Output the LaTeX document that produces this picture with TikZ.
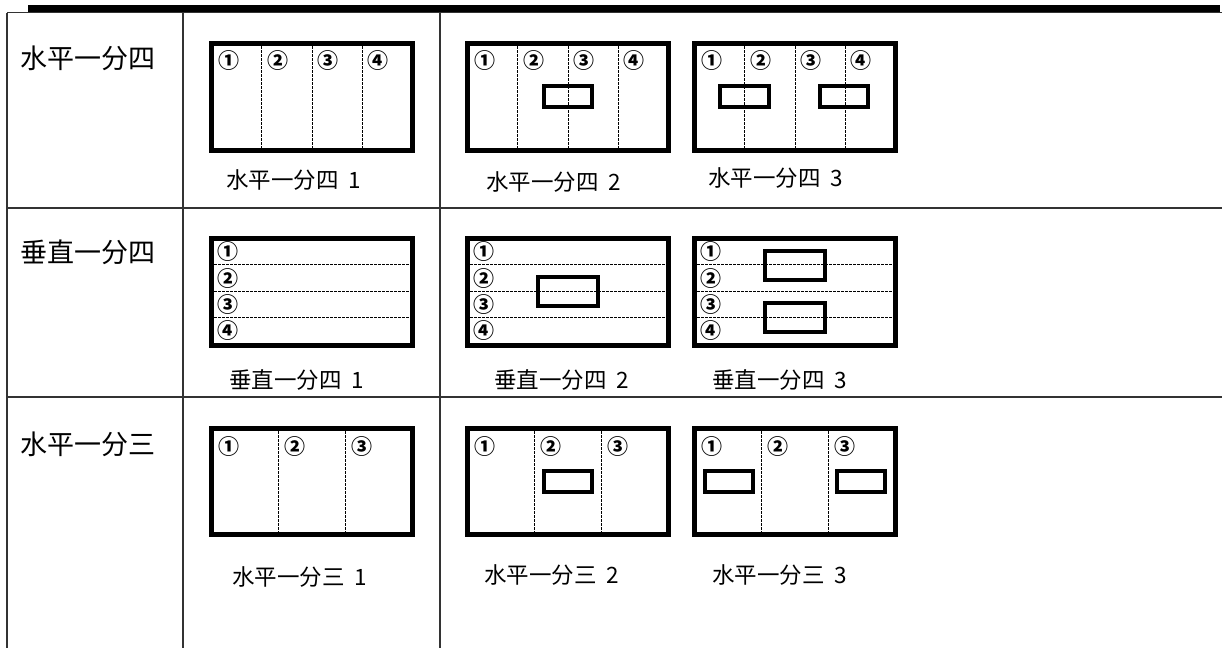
\documentclass[tikz,border=0pt]{standalone}
\usepackage{fontspec}
\setmainfont{Noto Sans CJK SC}
\newcommand\capgap{\hspace{0.45em}}
\begin{document}
\begin{tikzpicture}[x=1pt,y=-1pt,
  grid/.style={draw=black!80,line width=1.4pt},
  bigbox/.style={draw=black,line width=5pt},
  smallbox/.style={draw=black,line width=4pt},
  divline/.style={draw=black,line width=0.8pt,dash pattern=on 2.5pt off 1.5pt},
  rowlabel/.style={anchor=west,inner sep=0pt,font=\fontsize{27}{30}\selectfont},
  caption/.style={anchor=west,inner sep=0pt,font=\fontsize{22.5}{26}\selectfont},
  num/.style={inner sep=0pt,font=\fontsize{21}{22}\selectfont\bfseries}]
\useasboundingbox (0,0) rectangle (1222,648);
% top rule and table grid
\fill[black] (28,5) rectangle (1220,11.5);
\draw[grid] (7,12.5) -- (1222,12.5);
\draw[grid] (7,208) -- (1222,208);
\draw[grid] (7,397) -- (1222,397);
\draw[grid] (7,12.5) -- (7,648);
\draw[grid] (183,12.5) -- (183,648);
\draw[grid] (440,12.5) -- (440,648);
% row labels
\node[rowlabel] (l1) at (20.5,58) {水平一分四};
\node[rowlabel] (l2) at (20.5,252.5) {垂直一分四};
\node[rowlabel] (l3) at (20.5,444) {水平一分三};
% ---------- row 1: horizontal quarters
\foreach \xo in {211.5,467.5,694.5}{
  \foreach \k in {1,2,3}{
    \draw[divline] ({\xo+\k*50.25},46) -- ({\xo+\k*50.25},148);
  }
  \draw[bigbox] (\xo,43.5) rectangle ({\xo+201},150.5);
  \node[num] at ({\xo+17},61) {①};
  \node[num] at ({\xo+50.25+16},61) {②};
  \node[num] at ({\xo+100.5+16},61) {③};
  \node[num] at ({\xo+150.75+16},61) {④};
}
\draw[smallbox] (544,86) rectangle (592,107);
\draw[smallbox] (720,86) rectangle (769,107);
\draw[smallbox] (820,86) rectangle (868,107);
\node[caption] (c11) at (226,180) {水平一分四\capgap 1};
\node[caption] (c12) at (486,182) {水平一分四\capgap 2};
\node[caption] (c13) at (708,178) {水平一分四\capgap 3};
% ---------- row 2: vertical quarters
\foreach \xo in {211.5,467.5,694.5}{
  \foreach \yy in {264,291,317}{
    \draw[divline] ({\xo+2.5},\yy) -- ({\xo+198.5},\yy);
  }
  \draw[bigbox] (\xo,238.5) rectangle ({\xo+201},345.5);
  \node[num] at ({\xo+16.5},251.7) {①};
  \node[num] at ({\xo+16.5},278.3) {②};
  \node[num] at ({\xo+16.5},304.3) {③};
  \node[num] at ({\xo+16.5},331) {④};
}
\draw[smallbox] (538,277) rectangle (598,306);
\draw[smallbox] (765,251) rectangle (825,280);
\draw[smallbox] (765,303) rectangle (825,332);
\node[caption] (c21) at (229,380) {垂直一分四\capgap 1};
\node[caption] (c22) at (494,380) {垂直一分四\capgap 2};
\node[caption] (c23) at (712,380) {垂直一分四\capgap 3};
% ---------- row 3: horizontal thirds
\foreach \xo in {211.5,467.5,694.5}{
  \foreach \k in {1,2}{
    \draw[divline] ({\xo+\k*67},431) -- ({\xo+\k*67},532);
  }
  \draw[bigbox] (\xo,428.5) rectangle ({\xo+201},534.5);
  \node[num] at ({\xo+17},447) {①};
  \node[num] at ({\xo+67+16},447) {②};
  \node[num] at ({\xo+134+16},447) {③};
}
\draw[smallbox] (544,471) rectangle (592,492);
\draw[smallbox] (705,471) rectangle (753,492);
\draw[smallbox] (837,471) rectangle (885,492);
\node[caption] (c31) at (232,577) {水平一分三\capgap 1};
\node[caption] (c32) at (484,575) {水平一分三\capgap 2};
\node[caption] (c33) at (712,575) {水平一分三\capgap 3};
\end{tikzpicture}
\end{document}
